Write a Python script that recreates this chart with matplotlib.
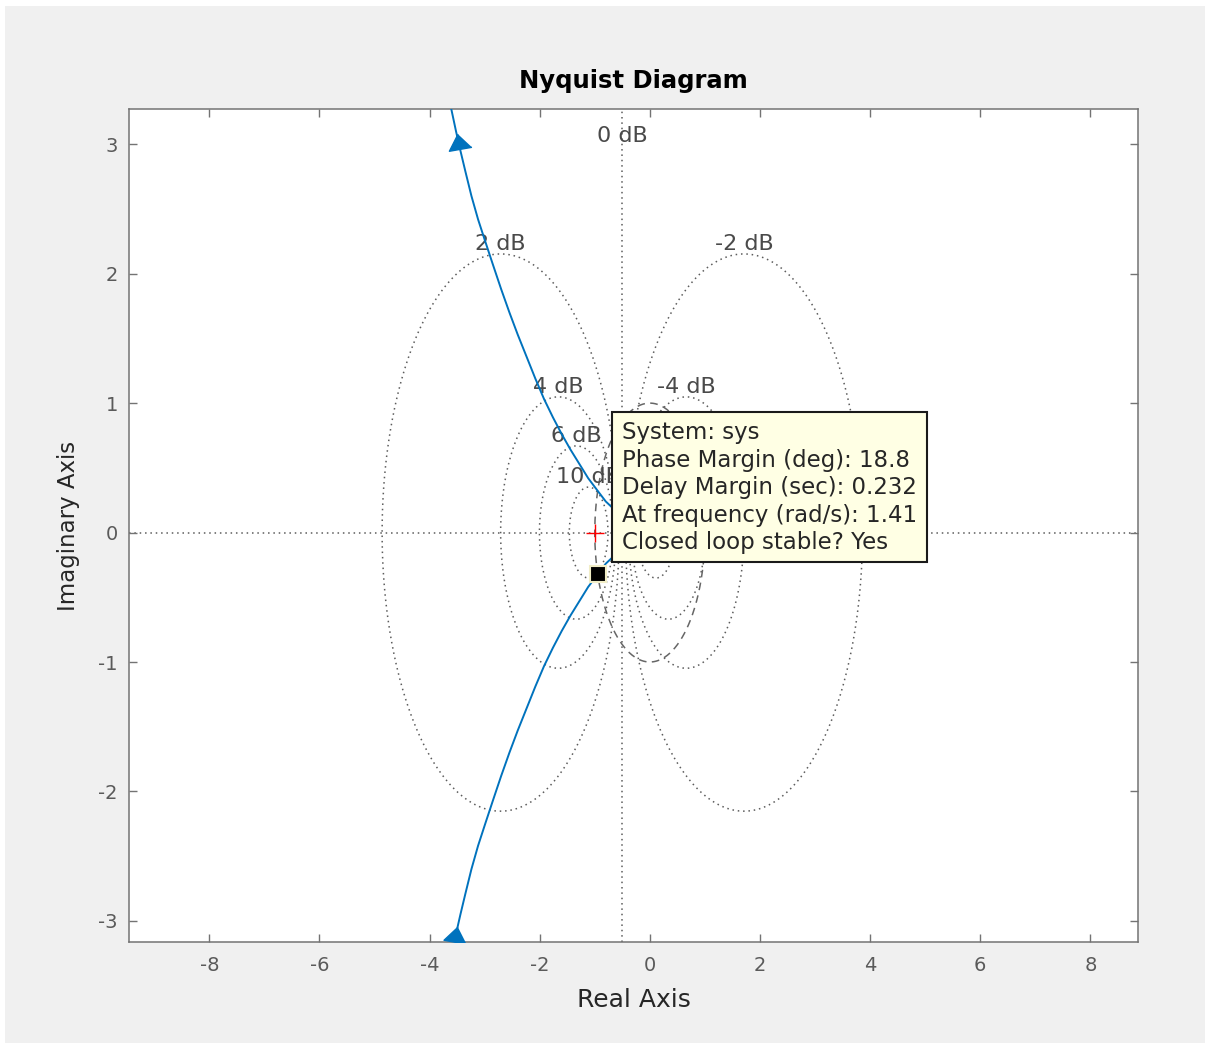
import numpy as np
import matplotlib
matplotlib.use('Agg')
import matplotlib.pyplot as plt
from matplotlib.patches import Rectangle

# Nyquist curve, positive-frequency branch (low -> high frequency)
nyq_re = [-3.68, -3.60, -3.52, -3.44, -3.35, -3.24, -3.12, -2.99, -2.85, -2.70,
          -2.55, -2.40, -2.24, -2.08, -1.92, -1.76, -1.60, -1.44, -1.28, -1.12,
          -0.947, -0.80, -0.65, -0.50, -0.36, -0.23, -0.12, -0.04, 0.0]
nyq_im = [-3.42, -3.26, -3.10, -2.95, -2.79, -2.60, -2.42, -2.25, -2.07, -1.88,
          -1.70, -1.53, -1.36, -1.19, -1.03, -0.89, -0.76, -0.64, -0.53, -0.42,
          -0.322, -0.24, -0.18, -0.12, -0.07, -0.035, -0.014, -0.003, 0.0]

# direction arrows (upper branch, lower branch)
arrow_re = [-3.46, -3.52]
arrow_im = [3.02, -3.11]
arrow_tilt = [10, -10]

# closed-loop gain contours (M-circles), dB
mcircle_db = [2, 4, 6, 10, -2, -4, -6, -10]
labelled_db = [2, 4, 6, 10, -2, -4]

# stability margin readout
sys_name = 'sys'
phase_margin = 18.8     # deg
delay_margin = 0.232    # sec
crossover_freq = 1.41   # rad/s
loop_stable = 'Yes'

xticks = [-8, -6, -4, -2, 0, 2, 4, 6, 8]
yticks = [-3, -2, -1, 0, 1, 2, 3]

BLUE = '#0072BD'
GRID = dict(color='#5c5c5c', lw=1.1, ls=(0, (1, 2.5)), zorder=1)

plt.rcParams['font.family'] = ['DejaVu Sans']
plt.rcParams['axes.unicode_minus'] = False

fig = plt.figure(figsize=(12.05, 10.43), dpi=100, facecolor='white')
fig.patches.append(Rectangle((5 / 1205, 0), 1, 1 - 6 / 1043, transform=fig.transFigure,
                             facecolor='#f0f0f0', edgecolor='none', zorder=-10))

ax = fig.add_axes([0.1071, 0.0966, 0.8376, 0.7990])
ax.set_facecolor('white')
ax.set_xlim(-9.458, 8.872)
ax.set_ylim(-3.165, 3.273)

# M-circle grid
theta = np.linspace(0, 2 * np.pi, 500)
for db in mcircle_db:
    m = 10 ** (db / 20)
    cx = -m ** 2 / (m ** 2 - 1)
    r = abs(m / (m ** 2 - 1))
    ax.plot(cx + r * np.cos(theta), r * np.sin(theta), **GRID)
    if db in labelled_db:
        ax.text(cx, r + 0.03, f'{db} dB', ha='center', va='baseline',
                fontsize=16, color='#4a4a4a', zorder=2)
ax.axvline(-0.5, **GRID)
ax.axhline(0, **GRID)
ax.text(-0.5, 3.02, '0 dB', ha='center', va='baseline', fontsize=16,
        color='#4a4a4a', zorder=2)

# unit circle
ax.plot(np.cos(theta), np.sin(theta), color='#666666', lw=1.1,
        ls=(0, (5, 3.5)), zorder=1.5)

# Nyquist curve and its mirror image
ax.plot(nyq_re, nyq_im, color=BLUE, lw=1.4, zorder=3)
ax.plot(nyq_re, [-v for v in nyq_im], color=BLUE, lw=1.4, zorder=3)

tri = np.array([[0, 0.55], [-0.75, -0.45], [0.75, -0.45]])
for xr, yi, tilt in zip(arrow_re, arrow_im, arrow_tilt):
    a = np.deg2rad(tilt)
    rot = np.array([[np.cos(a), -np.sin(a)], [np.sin(a), np.cos(a)]])
    ax.plot(xr, yi, marker=[tuple(p) for p in tri @ rot.T], ms=18,
            color=BLUE, mec=BLUE, ls='none', zorder=3)

# critical point
ax.plot(-1, 0, marker='+', ms=13, mew=1.0, color='red', ls='none', zorder=3)

# gain crossover point from the phase margin
pm = np.deg2rad(phase_margin)
ax.plot(-np.cos(pm), -np.sin(pm), marker='s', ms=11.5, mfc='black',
        mec='#f1edc6', mew=1.5, ls='none', zorder=4)

# data tip
ax.add_patch(Rectangle((0.4786, 0.4564), 0.312, 0.18, transform=ax.transAxes,
                       facecolor='#ffffe4', edgecolor='#1a1a1a', lw=1.5, zorder=5))
tip_lines = [
    f'System: {sys_name}',
    f'Phase Margin (deg): {phase_margin}',
    f'Delay Margin (sec): {delay_margin}',
    f'At frequency (rad/s): {crossover_freq}',
    f'Closed loop stable? {loop_stable}',
]
for i, line in enumerate(tip_lines):
    ax.text(0.4885, 0.6112 - i * 0.0330, line, transform=ax.transAxes,
            ha='left', va='center', fontsize=16.5, color='#262626', zorder=6)

# axes styling
ax.set_xticks(xticks)
ax.set_yticks(yticks)
ax.tick_params(direction='in', length=5.8, width=1.0, color='#737373',
               labelcolor='#5a5a5a', labelsize=14, top=True, right=True)
ax.tick_params(axis='x', pad=10)
ax.tick_params(axis='y', pad=8)
for sp in ax.spines.values():
    sp.set_color('#737373')
    sp.set_linewidth(1.1)

ax.set_title('Nyquist Diagram', fontsize=17.5, fontweight='bold', pad=15)
ax.set_xlabel('Real Axis', fontsize=18, color='#262626')
ax.set_ylabel('Imaginary Axis', fontsize=16.5, color='#262626')
ax.xaxis.set_label_coords(0.5, -0.0692)
ax.xaxis.label.set_verticalalignment('center')
ax.yaxis.set_label_coords(-0.0604, 0.5)
ax.yaxis.label.set_verticalalignment('center')

fig.savefig('out.png', dpi=100, facecolor=fig.get_facecolor())
